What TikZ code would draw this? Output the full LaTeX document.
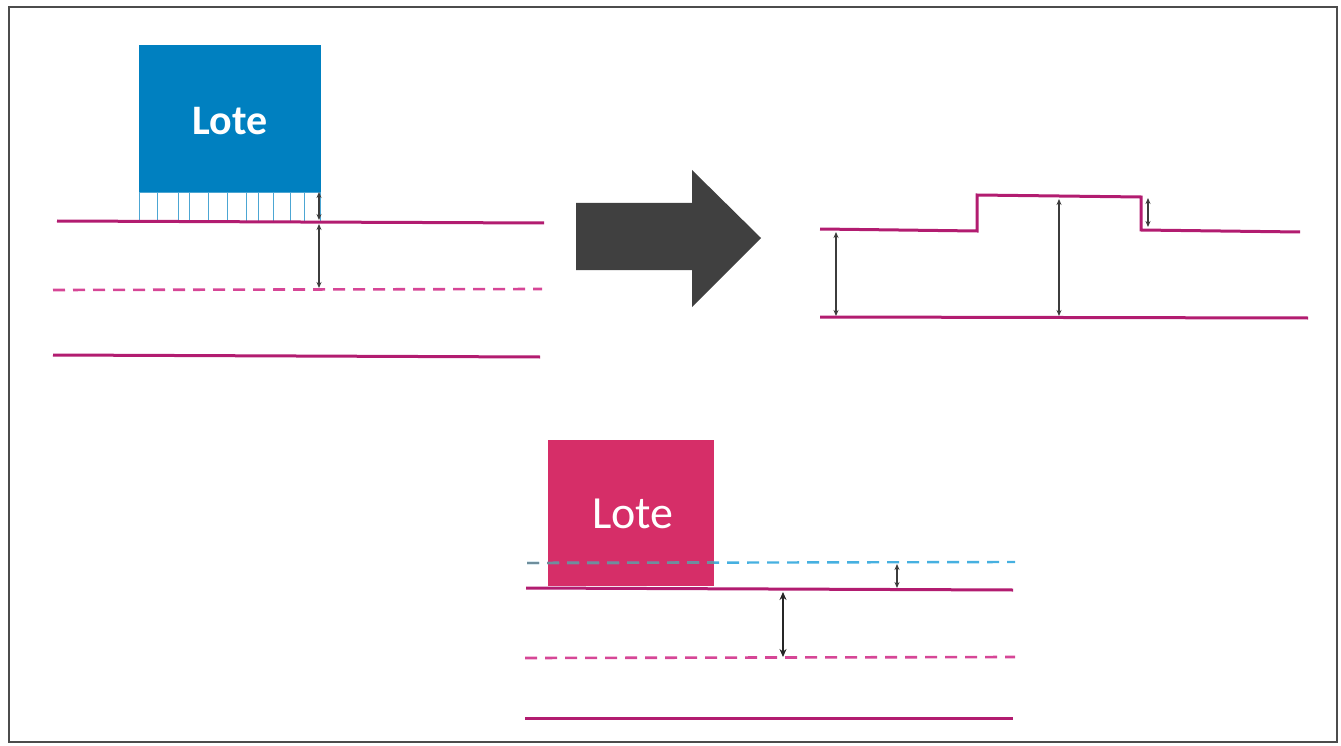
\documentclass[tikz,border=0pt]{standalone}
\usepackage{fontspec}
\setmainfont{Carlito}
\usetikzlibrary{arrows.meta}
\definecolor{mag}{RGB}{178,28,112}
\definecolor{magd}{RGB}{214,70,150}
\definecolor{lotblue}{RGB}{0,128,192}
\definecolor{lotpink}{RGB}{214,46,104}
\definecolor{cyanl}{RGB}{70,176,224}
\definecolor{arrgray}{RGB}{64,64,64}
\definecolor{dimgray}{RGB}{60,60,60}
\tikzset{
  ground/.style={draw=mag,line width=3pt},
  gdash/.style={draw=magd,line width=2.6pt,dash pattern=on 12pt off 8pt},
  cdash/.style={draw=cyanl,line width=2.4pt,dash pattern=on 12pt off 8pt},
  dimarr/.style={draw=dimgray,line width=1.4pt,{Stealth[length=6pt,width=5pt]}-{Stealth[length=6pt,width=5pt]}},
  dimarrb/.style={draw=black!85,line width=2.6pt,{Stealth[length=8pt,width=7pt]}-{Stealth[length=8pt,width=7pt]}},
  lotebox/.style={inner sep=0pt,outer sep=0pt,text=white},
  cell/.style={draw=lotblue!70,line width=0.9pt},
}
\begin{document}
\begin{tikzpicture}[x=1pt,y=-1pt]
\useasboundingbox (0,0) rectangle (1341,746);
\draw[draw=black!70,line width=2pt] (9,7) rectangle (1337,742);

% ---- top-left diagram ----
\node[lotebox,fill=lotblue,minimum width=182pt,minimum height=147pt,anchor=north west] (lote1) at (139,45) {};
\node[text=white,font=\bfseries\fontsize{42}{42}\selectfont] (lote1t) at (230,121) {Lote};
\draw[cell] (139,192) rectangle (320,221);
\foreach \xx in {157,178,189,208,227,246,258,273,290,304} \draw[cell] (\xx,192) -- (\xx,221);
\coordinate (g1a) at (57,221);
\coordinate (g1b) at (544,223);
\draw[ground] (g1a) -- (g1b);
\coordinate (d1a) at (53,290);
\coordinate (d1b) at (542,289);
\draw[gdash] (d1a) -- (d1b);
\coordinate (b1a) at (53,355);
\coordinate (b1b) at (540,357);
\draw[ground] (b1a) -- (b1b);
\coordinate (a1t) at (319,192);
\coordinate (a1m) at (319,220);
\coordinate (a1n) at (319,224);
\coordinate (a1b) at (319,288);
\draw[dimarr] (a1t) -- (a1m);
\draw[dimarr] (a1n) -- (a1b);

% ---- big arrow ----
\fill[arrgray] (576,203) -- (692,203) -- (692,170) -- (761,238) -- (692,307) -- (692,270) -- (576,270) -- cycle;

% ---- top-right diagram ----
\coordinate (p1) at (820,229);
\coordinate (p2) at (977,231);
\coordinate (p3) at (977,195);
\coordinate (p4) at (1141,197);
\coordinate (p5) at (1141,230);
\coordinate (p6) at (1300,232);
\draw[ground,line join=miter] (p1) -- (p2) -- (p3) -- (p4) -- (p5) -- (p6);
\coordinate (q1) at (820,317);
\coordinate (q2) at (1308,318);
\draw[ground] (q1) -- (q2);
\coordinate (r1t) at (836,232);
\coordinate (r1b) at (836,316);
\draw[dimarr] (r1t) -- (r1b);
\coordinate (r2t) at (1059,199);
\coordinate (r2b) at (1059,316);
\draw[dimarr] (r2t) -- (r2b);
\coordinate (r3t) at (1148,198);
\coordinate (r3b) at (1148,227);
\draw[dimarr] (r3t) -- (r3b);

% ---- bottom diagram ----
\node[lotebox,fill=lotpink,minimum width=166pt,minimum height=146pt,anchor=north west] (lote2) at (548,440) {};
\node[text=white,font=\fontsize{46}{46}\selectfont] (lote2t) at (633,514) {Lote};
\coordinate (c1a) at (527,563);
\coordinate (c1b) at (1015,562);
\draw[cdash] (c1a) -- (c1b);
\draw[draw=gray!70!cyanl,line width=2.4pt,dash pattern=on 12pt off 8pt] (c1a) -- (714,562.6);
\coordinate (g2a) at (526,588);
\coordinate (g2b) at (1013,590);
\draw[ground] (g2a) -- (g2b);
\coordinate (d2a) at (525,658);
\coordinate (d2b) at (1015,657);
\draw[gdash] (d2a) -- (d2b);
\coordinate (b2a) at (525,718);
\coordinate (b2b) at (1013,718);
\draw[ground] (b2a) -- (b2b);
\coordinate (s1t) at (897,564);
\coordinate (s1b) at (897,588);
\draw[dimarr] (s1t) -- (s1b);
\coordinate (s2t) at (783,592);
\coordinate (s2b) at (783,657);
\draw[dimarrb] (s2t) -- (s2b);
\end{tikzpicture}
\end{document}
